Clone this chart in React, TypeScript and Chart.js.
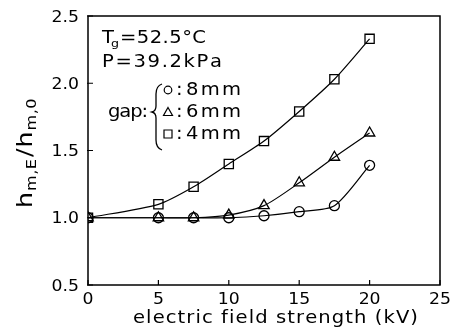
import { useEffect, useRef } from 'react';
import { Chart, registerables } from 'chart.js';
Chart.register(...registerables);

const xValues = [0, 5, 7.5, 10, 12.5, 15, 17.5, 20];
const gap8 = [1.0, 1.0, 1.0, 1.0, 1.015, 1.045, 1.09, 1.39];
const gap6 = [1.0, 1.0, 1.0, 1.02, 1.09, 1.26, 1.45, 1.63];
const gap4 = [1.0, 1.1, 1.23, 1.4, 1.57, 1.79, 2.03, 2.33];
const xTicks = [0, 5, 10, 15, 20, 25];
const yTicks = [0.5, 1.0, 1.5, 2.0, 2.5];
const xTitle = 'electric field strength (kV)';
const legendItems = [
  { style: 'circle', label: '8mm' },
  { style: 'triangle', label: '6mm' },
  { style: 'rect', label: '4mm' },
];

const FONT = '"DejaVu Sans", "Liberation Sans", sans-serif';
const SX = 1.15;

function charWidths(ctx: CanvasRenderingContext2D, text: string) {
  return [...text].map((c) => ctx.measureText(c).width * SX);
}

function spaced(ctx: CanvasRenderingContext2D, text: string, x: number, y: number, spacing: number, align: string) {
  const chars = [...text];
  const w = charWidths(ctx, text);
  const total = w.reduce((a, b) => a + b, 0) + spacing * (chars.length - 1);
  let cx = align === 'left' ? x : align === 'center' ? x - total / 2 : x - total;
  ctx.textAlign = 'left';
  chars.forEach((c, i) => {
    ctx.save();
    ctx.translate(cx, y);
    ctx.scale(SX, 1);
    ctx.fillText(c, 0, 0);
    ctx.restore();
    cx += w[i] + spacing;
  });
  return cx - spacing;
}

function fitText(ctx: CanvasRenderingContext2D, text: string, x0: number, x1: number, y: number) {
  const chars = [...text];
  const w = charWidths(ctx, text);
  const sum = w.reduce((a, b) => a + b, 0);
  const sp = (x1 - x0 - sum) / (chars.length - 1);
  return spaced(ctx, text, x0, y, sp, 'left');
}

const decor = {
  id: 'decor',
  afterDraw(chart: any) {
    const ctx: CanvasRenderingContext2D = chart.ctx;
    const { left, right, top, bottom } = chart.chartArea;
    const xs = chart.scales.x;
    const ys = chart.scales.y;
    ctx.save();
    ctx.strokeStyle = '#000';
    ctx.fillStyle = '#000';
    ctx.lineWidth = 1.5;
    ctx.strokeRect(left, top, right - left, bottom - top);
    // inward ticks
    ctx.lineWidth = 1.2;
    ctx.beginPath();
    xTicks.forEach((v) => {
      const px = xs.getPixelForValue(v);
      ctx.moveTo(px, bottom);
      ctx.lineTo(px, bottom - 5);
    });
    yTicks.forEach((v) => {
      const py = ys.getPixelForValue(v);
      ctx.moveTo(left - 1, py);
      ctx.lineTo(left + 5, py);
    });
    ctx.stroke();
    // tick labels
    ctx.font = `15px ${FONT}`;
    ctx.textBaseline = 'alphabetic';
    xTicks.forEach((v) => {
      spaced(ctx, String(v), xs.getPixelForValue(v), bottom + 19, 0, 'center');
    });
    yTicks.forEach((v) => {
      spaced(ctx, v.toFixed(1), left - 9, ys.getPixelForValue(v) + 5.5, 0, 'right');
    });
    // x title
    ctx.font = `17px ${FONT}`;
    fitText(ctx, xTitle, 133, 418, 323);
    // y title
    ctx.save();
    ctx.translate(32, 208);
    ctx.rotate(-Math.PI / 2);
    const parts = [
      { t: 'h', s: 22, dy: 0 },
      { t: 'm,E', s: 14, dy: 4 },
      { t: '/', s: 22, dy: 0 },
      { t: 'h', s: 22, dy: 0 },
      { t: 'm,0', s: 14, dy: 4 },
    ];
    let cx = 0;
    parts.forEach((p, i) => {
      ctx.font = `${p.s}px ${FONT}`;
      cx = spaced(ctx, p.t, cx, p.dy, 0.5, 'left') + (i === 1 ? 2 : 1);
    });
    ctx.restore();
    // annotations
    ctx.font = `17px ${FONT}`;
    spaced(ctx, 'T', 102, 43, 0, 'left');
    ctx.font = `11px ${FONT}`;
    spaced(ctx, 'g', 111, 47, 0, 'left');
    ctx.font = `17px ${FONT}`;
    fitText(ctx, '=52.5°C', 120, 206, 43);
    fitText(ctx, 'P=39.2kPa', 102, 222, 67);
    fitText(ctx, 'gap:', 108, 148, 117);
    // brace
    ctx.lineWidth = 1.3;
    ctx.beginPath();
    ctx.moveTo(162, 84);
    ctx.quadraticCurveTo(156, 86, 156, 94);
    ctx.lineTo(156, 106);
    ctx.quadraticCurveTo(156, 111, 152, 112);
    ctx.quadraticCurveTo(156, 113, 156, 118);
    ctx.lineTo(156, 140);
    ctx.quadraticCurveTo(156, 148, 162, 150);
    ctx.stroke();
    legendItems.forEach((it, i) => {
      const by = 95 + i * 22;
      const mx = 168;
      const my = by - 5;
      ctx.lineWidth = 1.2;
      ctx.beginPath();
      if (it.style === 'circle') {
        ctx.arc(mx, my, 3.8, 0, Math.PI * 2);
      } else if (it.style === 'triangle') {
        ctx.moveTo(mx, my - 4.5);
        ctx.lineTo(mx + 4.5, my + 3.5);
        ctx.lineTo(mx - 4.5, my + 3.5);
        ctx.closePath();
      } else {
        ctx.rect(mx - 4, my - 4, 8, 8);
      }
      ctx.stroke();
      ctx.font = `17px ${FONT}`;
      spaced(ctx, ':', 176, by, 0, 'left');
      fitText(ctx, it.label, 186, 241, by);
    });
    ctx.restore();
  },
};

export default function App() {
  const ref = useRef<HTMLCanvasElement>(null);
  useEffect(() => {
    const mk = (vals: number[], style: string, r: number) => ({
      data: xValues.map((x, i) => ({ x, y: vals[i] })),
      borderColor: '#000',
      borderWidth: 1.2,
      pointStyle: style,
      pointRadius: r,
      pointBorderWidth: 1.3,
      pointBorderColor: '#000',
      pointBackgroundColor: 'rgba(0,0,0,0)',
      tension: 0.25,
      fill: false,
    });
    const chart = new Chart(ref.current!, {
      type: 'line',
      data: {
        datasets: [mk(gap8, 'circle', 5), mk(gap6, 'triangle', 6), mk(gap4, 'rect', 6.5)],
      },
      options: {
        responsive: false,
        animation: false,
        layout: { padding: { top: 16, right: 20, left: 0, bottom: 0 } },
        plugins: { legend: { display: false }, tooltip: { enabled: false } },
        scales: {
          x: {
            type: 'linear',
            min: 0,
            max: 25,
            grid: { display: false },
            border: { display: false },
            ticks: { display: false },
            afterFit: (s: any) => { s.height = 49; },
          },
          y: {
            min: 0.5,
            max: 2.5,
            grid: { display: false },
            border: { display: false },
            ticks: { display: false },
            afterFit: (s: any) => { s.width = 88; },
          },
        },
      },
      plugins: [decor],
    } as any);
    return () => chart.destroy();
  }, []);
  return (
    <div style={{ position: 'absolute', left: 0, top: 0, width: 460, height: 334, background: '#fff' }}>
      <canvas ref={ref} width={460} height={334} />
    </div>
  );
}
